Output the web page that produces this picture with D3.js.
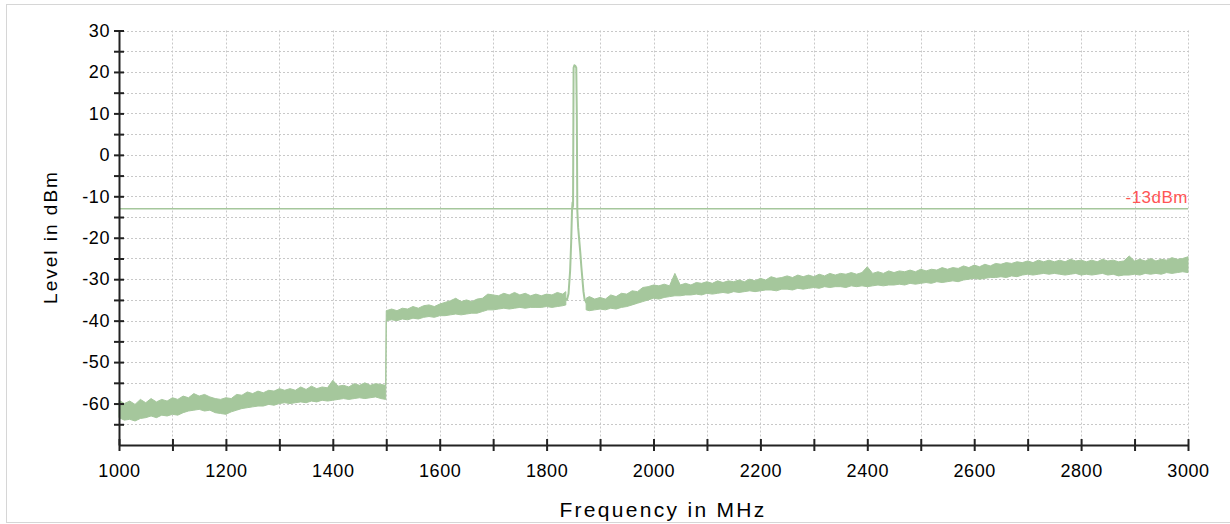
<!DOCTYPE html>
<html>
<head>
<meta charset="utf-8">
<script src="https://cdn.jsdelivr.net/npm/d3@7/dist/d3.min.js"></script>
<style>
  body { margin: 0; background: #fff; }
  svg { display: block; font-family: "Liberation Sans", Arial, Helvetica, sans-serif; }
</style>
</head>
<body>
<svg id="spectrum" width="1230" height="524"></svg>
<script>
// sweep samples (MHz); the null entry at 1855 leaves the band open under the carrier
var freqMHz = [
  1000,1010,1020,1030,1040,1050,1060,1070,1080,1090,
  1100,1110,1120,1130,1140,1150,1160,1170,1180,1190,
  1200,1210,1220,1230,1240,1250,1260,1270,1280,1290,
  1300,1310,1320,1330,1340,1350,1360,1370,1380,1390,
  1400,1410,1420,1430,1440,1450,1460,1470,1480,1490,
  1499,
  1500,1510,1520,1530,1540,1550,1560,1570,1580,1590,
  1600,1610,1620,1630,1640,1650,1660,1670,1680,1690,
  1700,1710,1720,1730,1740,1750,1760,1770,1780,1790,
  1800,1810,1820,1830,
  1836,1855,1874,
  1880,1890,1900,1910,1920,1930,1940,1950,1960,1970,
  1980,1990,2000,2010,2020,2030,2040,2050,2060,2070,
  2080,2090,2100,2110,2120,2130,2140,2150,2160,2170,
  2180,2190,2200,2210,2220,2230,2240,2250,2260,2270,
  2280,2290,2300,2310,2320,2330,2340,2350,2360,2370,
  2380,2390,2400,2410,2420,2430,2440,2450,2460,2470,
  2480,2490,2500,2510,2520,2530,2540,2550,2560,2570,
  2580,2590,2600,2610,2620,2630,2640,2650,2660,2670,
  2680,2690,2700,2710,2720,2730,2740,2750,2760,2770,
  2780,2790,2800,2810,2820,2830,2840,2850,2860,2870,
  2880,2890,2900,2910,2920,2930,2940,2950,2960,2970,
  2980,2990,3000
]
// upper edge of the noisy trace (dBm)
var levelMax = [
  -59.2,-60.0,-59.4,-60.2,-59.0,-59.8,-58.8,-59.6,-59.0,-59.4,
  -58.6,-59.0,-58.2,-58.6,-57.6,-58.2,-57.8,-58.4,-58.8,-59.0,
  -58.6,-58.8,-57.8,-58.0,-57.2,-57.6,-57.0,-57.4,-56.8,-57.0,
  -56.4,-56.8,-56.4,-56.8,-56.0,-56.6,-55.8,-56.4,-56.0,-56.2,
  -54.4,-55.8,-55.6,-56.0,-55.2,-55.6,-55.0,-55.6,-55.2,-55.4,
  -55.6,
  -37.6,-37.2,-37.6,-37.0,-37.2,-36.6,-37.0,-36.4,-36.2,-36.6,
  -36.0,-35.6,-35.2,-34.6,-35.4,-35.0,-35.4,-34.8,-34.6,-33.6,
  -33.8,-34.0,-33.4,-33.8,-33.2,-33.8,-33.4,-34.0,-33.6,-34.0,
  -33.6,-33.8,-33.2,-33.6,
  -33.0,null,-34.6,
  -34.2,-34.8,-34.4,-34.8,-33.8,-34.2,-33.4,-33.6,-32.8,-33.0,
  -32.0,-31.8,-31.4,-31.6,-31.2,-31.6,-28.6,-31.4,-31.0,-31.4,
  -30.8,-31.0,-30.6,-31.0,-30.4,-30.8,-30.4,-30.6,-30.2,-30.6,
  -30.0,-30.4,-29.8,-30.2,-29.4,-29.8,-29.6,-29.2,-29.6,-29.0,
  -29.4,-29.0,-29.4,-28.8,-29.2,-28.6,-29.0,-28.6,-28.8,-28.4,
  -28.8,-28.4,-27.0,-28.6,-28.2,-28.6,-28.0,-28.4,-28.0,-28.2,
  -27.8,-28.2,-27.6,-28.0,-27.6,-27.8,-27.2,-27.6,-27.2,-27.4,
  -26.8,-27.2,-26.6,-27.0,-26.4,-26.8,-26.2,-26.4,-26.0,-26.2,
  -25.8,-26.0,-25.6,-26.0,-25.4,-25.8,-25.4,-25.8,-25.4,-25.8,
  -25.2,-25.6,-25.4,-25.8,-25.4,-25.8,-25.2,-25.6,-25.4,-25.8,
  -25.6,-24.4,-25.6,-25.2,-25.6,-25.0,-25.6,-25.2,-25.4,-24.8,
  -25.2,-25.0,-24.6
]
// lower edge of the noisy trace (dBm)
var levelMin = [
  -63.4,-64.0,-63.8,-64.2,-63.6,-63.4,-63.0,-63.4,-62.8,-63.0,
  -62.6,-62.8,-62.2,-61.8,-61.6,-61.4,-61.8,-61.6,-62.2,-62.4,
  -62.6,-62.0,-61.6,-61.2,-61.0,-60.8,-60.6,-60.6,-60.2,-60.4,
  -60.0,-59.8,-60.0,-59.8,-59.6,-59.8,-59.4,-59.6,-59.2,-59.4,
  -59.2,-59.0,-58.8,-59.0,-58.8,-58.6,-58.8,-58.6,-58.4,-58.8,
  -59.0,
  -40.0,-39.8,-40.0,-39.6,-39.8,-39.4,-39.6,-39.2,-39.0,-39.2,
  -38.8,-38.8,-38.6,-38.4,-38.6,-38.4,-38.2,-38.2,-37.8,-37.4,
  -37.4,-37.2,-37.0,-37.2,-37.0,-36.8,-37.0,-36.8,-36.8,-36.8,
  -36.6,-36.8,-36.6,-36.4,
  -36.2,null,-37.4,
  -37.6,-37.4,-37.2,-37.4,-37.0,-37.2,-36.8,-36.6,-36.2,-35.8,
  -35.4,-35.0,-34.6,-34.8,-34.4,-34.2,-34.0,-34.0,-33.8,-33.8,
  -33.6,-33.8,-33.4,-33.6,-33.4,-33.2,-33.4,-33.0,-33.2,-33.0,
  -32.8,-33.0,-32.8,-32.6,-32.6,-32.8,-32.4,-32.4,-32.6,-32.2,
  -32.4,-32.2,-32.0,-32.2,-31.8,-32.0,-31.8,-31.8,-32.0,-31.6,
  -31.8,-31.6,-31.8,-31.6,-31.4,-31.6,-31.4,-31.4,-31.2,-31.4,
  -31.0,-31.2,-31.0,-30.8,-31.0,-30.6,-30.8,-30.6,-30.4,-30.6,
  -30.2,-30.0,-29.8,-30.0,-29.8,-29.6,-29.6,-29.4,-29.6,-29.2,
  -29.4,-29.0,-28.8,-29.0,-28.8,-28.6,-28.8,-28.6,-28.8,-29.0,
  -28.8,-28.6,-29.0,-28.8,-29.0,-28.8,-28.6,-29.0,-28.8,-29.2,
  -29.0,-29.0,-28.8,-29.0,-28.6,-28.8,-28.6,-28.8,-28.4,-28.6,
  -28.4,-28.2,-28.4
]
// the carrier around 1855 MHz, drawn as a plain trace
var peakFreqMHz = [1834,1838,1841,1844,1846,1847.5,1848.5,1849.5,1850.5,1852,1854,1855.5,1856.5,1857.5,1859,1861,1863,1865,1867,1869,1871,1874,1877]
var peakLevel   = [-34.6,-35.0,-33.5,-28.0,-21.0,-13.5,-11.5,-12.5,21.0,21.6,21.4,21.0,10.0,-13.5,-17.5,-20.5,-23.5,-27.0,-30.0,-33.0,-34.8,-35.6,-35.2]

var limitLevel = -13
var limitLabel = '-13dBm'

var xTickValues = [1000,1100,1200,1300,1400,1500,1600,1700,1800,1900,2000,2100,2200,2300,2400,2500,2600,2700,2800,2900,3000]
var xTickLabels = ['1000','','1200','','1400','','1600','','1800','','2000','','2200','','2400','','2600','','2800','','3000']
var yTickValues = [-65,-60,-55,-50,-45,-40,-35,-30,-25,-20,-15,-10,-5,0,5,10,15,20,25,30]
var yTickLabels = ['','-60','','-50','','-40','','-30','','-20','','-10','','0','','10','','20','','30']

var xTitle = 'Frequency in MHz'
var yTitle = 'Level in dBm'

function spectrum(){

	var traceColor = '#a5c79c'
	var left = 119, right = 1188, top = 30.5, bottom = 445

	function main(){
		var band = freqMHz.map(function(f, i){
			return {f: f, max: levelMax[i], min: levelMin[i]}
		})
		var peak = peakFreqMHz.map(function(f, i){
			return {f: f, v: peakLevel[i]}
		})
		draw(band, peak)
	}

	function draw(band, peak){
		var svg = d3.select('svg#spectrum')

		// outer frame, it runs off the right edge
		svg.append('rect')
			.attr('x', 6.5).attr('y', 4.5)
			.attr('width', 1260).attr('height', 518)
			.style('fill', 'none')
			.style('stroke', '#d6d6d6')

		var x = d3.scaleLinear().domain([1000, 3000]).range([left, right])
		var y = d3.scaleLinear().domain([-70, 30]).range([bottom, top])

		// dotted grid
		var grid = svg.append('g').attr('class', 'grid')
		grid.selectAll('line.h')
			.data(yTickValues.concat([30]))
			.enter()
			.append('line')
			.attr('class', 'h')
			.attr('x1', left).attr('x2', right)
			.attr('y1', function(d){return Math.round(y(d)) + 0.5})
			.attr('y2', function(d){return Math.round(y(d)) + 0.5})
		grid.selectAll('line.v')
			.data(xTickValues.slice(1))
			.enter()
			.append('line')
			.attr('class', 'v')
			.attr('y1', top).attr('y2', bottom)
			.attr('x1', function(d){return Math.round(x(d)) + 0.5})
			.attr('x2', function(d){return Math.round(x(d)) + 0.5})
		grid.selectAll('line')
			.style('stroke', '#c8c8c8')
			.style('stroke-width', 1)
			.style('stroke-dasharray', '2,2')

		// noise band
		var area = d3.area()
			.defined(function(d){return d.max !== null})
			.x(function(d){return x(d.f)})
			.y0(function(d){return y(d.min)})
			.y1(function(d){return y(d.max)})
		svg.append('path')
			.datum(band)
			.attr('d', area)
			.style('fill', traceColor)
			.style('stroke', traceColor)
			.style('stroke-width', 1)
			.style('stroke-linejoin', 'miter')

		// carrier
		var line = d3.line()
			.x(function(d){return x(d.f)})
			.y(function(d){return y(d.v)})
		svg.append('path')
			.datum(peak)
			.attr('d', line)
			.style('fill', 'none')
			.style('stroke', traceColor)
			.style('stroke-width', 2)
			.style('stroke-linejoin', 'round')

		// limit line
		svg.append('line')
			.attr('x1', left).attr('x2', right)
			.attr('y1', y(limitLevel)).attr('y2', y(limitLevel))
			.style('stroke', traceColor)
			.style('stroke-width', 1.5)
		svg.append('text')
			.attr('x', right).attr('y', y(limitLevel) - 6)
			.attr('text-anchor', 'end')
			.style('font-size', '17px')
			.style('letter-spacing', '0.5px')
			.style('fill', '#ff5555')
			.text(limitLabel)

		// axes
		var yAxis = d3.axisLeft(y)
			.tickValues(yTickValues)
			.tickFormat(function(d, i){return yTickLabels[i]})
			.tickSizeInner(5).tickSizeOuter(0).tickPadding(4)
		var gy = svg.append('g')
			.attr('transform', 'translate(' + left + ',0)')
			.call(yAxis)
		gy.selectAll('.tick line').attr('x1', 5)

		var xAxis = d3.axisBottom(x)
			.tickValues(xTickValues)
			.tickFormat(function(d, i){return xTickLabels[i]})
			.tickSizeInner(6).tickSizeOuter(0).tickPadding(13)
		var gx = svg.append('g')
			.attr('transform', 'translate(0,' + bottom + ')')
			.call(xAxis)
		gx.selectAll('.tick line').attr('y1', -6)

		svg.selectAll('.domain, .tick line')
			.style('stroke', '#222')
			.style('stroke-width', 2)
		svg.selectAll('.tick text')
			.style('font-family', '"Liberation Sans", Arial, Helvetica, sans-serif')
			.style('font-size', '18px')
			.style('letter-spacing', '0.6px')
			.style('fill', '#000')

		// titles
		svg.append('text')
			.attr('transform', 'translate(57,237) rotate(-90)')
			.attr('text-anchor', 'middle')
			.style('font-size', '19px')
			.style('letter-spacing', '2px')
			.style('fill', '#000')
			.text(yTitle)
		svg.append('text')
			.attr('x', 663).attr('y', 517)
			.attr('text-anchor', 'middle')
			.style('font-size', '21px')
			.style('letter-spacing', '2.3px')
			.style('fill', '#000')
			.text(xTitle)
	}

	return {
		main: main
	}
}

spectrum().main()
</script>
</body>
</html>
